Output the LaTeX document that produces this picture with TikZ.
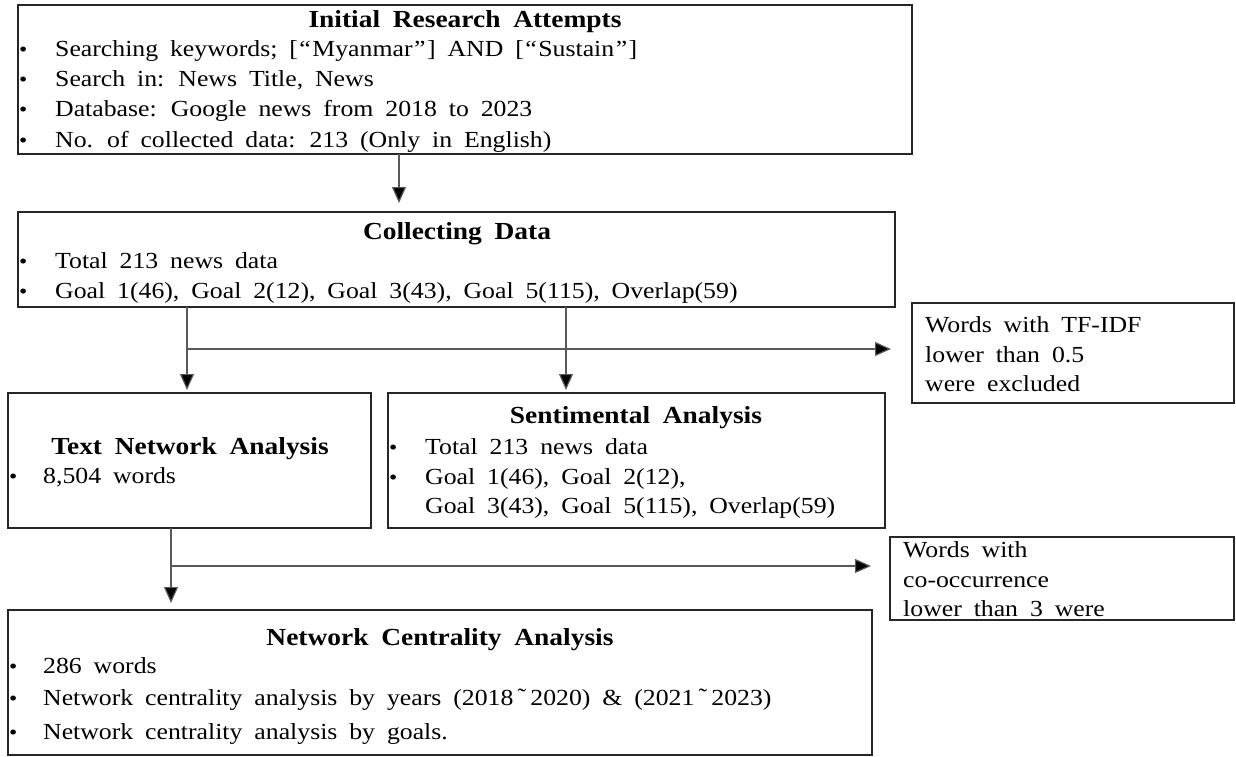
\documentclass[tikz,border=0pt]{standalone}
\usepackage{fontspec}
\setmainfont{Liberation Serif}[FakeStretch=1.12, WordSpace={1.85,0,0}]
\usetikzlibrary{arrows.meta}
\newcommand{\myLq}{\makebox[14.5pt][c]{“}}
\newcommand{\myRq}{\makebox[14.5pt][c]{”}}
\newcommand{\myTld}{\makebox[17pt][c]{\raisebox{1pt}{\char"02DC}}}
\begin{document}
\begin{tikzpicture}[x=1pt,y=-1pt,
  box/.style={draw=black!85, line width=1.3pt, inner sep=0pt, outer sep=0pt, anchor=north west},
  txt/.style={inner sep=0pt, anchor=base west, font=\fontsize{23}{27}\selectfont},
  ttl/.style={inner sep=0pt, anchor=base, font=\fontsize{24.5}{28}\selectfont\bfseries},
  bul/.style={inner sep=0pt, anchor=base west, font=\fontsize{21}{25}\selectfont},
  arr/.style={draw=black!65, line width=1.2pt, -{Triangle[width=14pt,length=16pt,fill=black]}},
  ln/.style={draw=black!65, line width=1.2pt}]
\useasboundingbox (0,0) rectangle (1236,757);
% boxes
\node[box, minimum width=894pt, minimum height=149pt] (b1) at (18,5) {};
\node[box, minimum width=877pt, minimum height=95pt] (b2) at (18,212) {};
\node[box, minimum width=322pt, minimum height=100pt] (tf) at (912,303) {};
\node[box, minimum width=363pt, minimum height=135pt] (tna) at (8,393) {};
\node[box, minimum width=497pt, minimum height=135pt] (sa) at (388,393) {};
\node[box, minimum width=344pt, minimum height=83pt] (co) at (890,537) {};
\node[box, minimum width=864pt, minimum height=145pt] (nca) at (8,610) {};
% box 1
\node[ttl] (t1) at (465,28) {Initial Research Attempts};
\node[bul] (p11) at (19,57) {•};
\node[txt] (l11) at (55,57) {Searching keywords; [\myLq Myanmar\myRq] AND [\myLq Sustain\myRq]};
\node[bul] (p12) at (19,87) {•};
\node[txt] (l12) at (55,87) {Search in: News Title, News};
\node[bul] (p13) at (19,117) {•};
\node[txt] (l13) at (55,117) {Database: Google news from 2018 to 2023};
\node[bul] (p14) at (19,147) {•};
\node[txt] (l14) at (55,147) {No. of collected data: 213 (Only in English)};
% box 2
\node[ttl] (t2) at (457,239) {Collecting Data};
\node[bul] (p21) at (19,268) {•};
\node[txt] (l21) at (55,268) {Total 213 news data};
\node[bul] (p22) at (19,298) {•};
\node[txt] (l22) at (55,298) {Goal 1(46), Goal 2(12), Goal 3(43), Goal 5(115), Overlap(59)};
% tf box
\node[txt] (f1) at (925,332) {Words with TF-IDF};
\node[txt] (f2) at (925,362) {lower than 0.5};
\node[txt] (f3) at (925,391) {were excluded};
% tna
\node[ttl] (t3) at (190,454) {Text Network Analysis};
\node[bul] (p31) at (9,483) {•};
\node[txt] (l31) at (43,483) {8,504 words};
% sa
\node[ttl] (t4) at (636,423) {Sentimental Analysis};
\node[bul] (p41) at (389,454) {•};
\node[txt] (l41) at (425,454) {Total 213 news data};
\node[bul] (p42) at (389,484) {•};
\node[txt] (l42) at (425,484) {Goal 1(46), Goal 2(12),};
\node[txt] (l43) at (425,513) {Goal 3(43), Goal 5(115), Overlap(59)};
% co box
\node[txt] (c1) at (903,557) {Words with};
\node[txt] (c2) at (903,587) {co-occurrence};
\node[txt] (c3) at (903,616) {lower than 3 were};
% nca
\node[ttl] (t5) at (440,645) {Network Centrality Analysis};
\node[bul] (p51) at (9,673) {•};
\node[txt] (l51) at (43,673) {286 words};
\node[bul] (p52) at (9,705) {•};
\node[txt] (l52) at (43,705) {Network centrality analysis by years (2018\myTld 2020) \& (2021\myTld 2023)};
\node[bul] (p53) at (9,739) {•};
\node[txt] (l53) at (43,739) {Network centrality analysis by goals.};
% connectors
\coordinate (k1) at (399,0);
\coordinate (k2) at (187,0);
\coordinate (k3) at (566,0);
\coordinate (k5) at (171,0);
\coordinate (h1) at (187,349);
\coordinate (h2) at (171,566);
\draw[arr, shorten >=9pt] (b1.south -| k1) -- (b2.north -| k1);
\draw[arr, shorten >=3pt] (b2.south -| k2) -- (tna.north -| k2);
\draw[arr, shorten >=3pt] (b2.south -| k3) -- (sa.north -| k3);
\draw[arr, shorten >=21pt] (h1) -- (tf.west |- h1);
\draw[arr, shorten >=7pt] (tna.south -| k5) -- (nca.north -| k5);
\draw[arr, shorten >=19pt] (h2) -- (co.west |- h2);
\end{tikzpicture}
\end{document}
